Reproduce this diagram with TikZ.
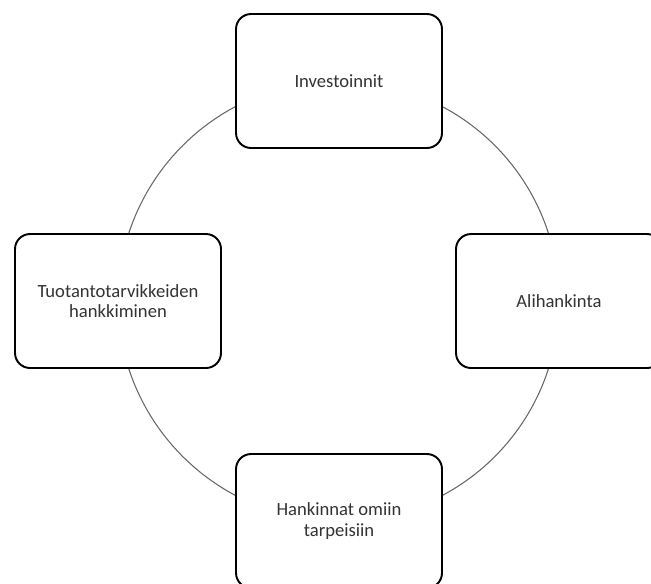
\documentclass[tikz,border=0pt]{standalone}
\usepackage{fontspec}
\setmainfont{Carlito}
\usetikzlibrary{backgrounds}
\tikzstyle{box} = [draw, rounded corners=0.3cm, fill=white, line width=1.1pt, minimum width=4.12cm, minimum height=2.68cm, align=center, text=black!80, font=\fontsize{10.6}{11.6}\selectfont]
\tikzstyle{ring} = [black!60, line width=0.6pt]

\begin{document}
\begin{tikzpicture}[x=0.02cm, y=-0.02cm]
	\useasboundingbox (0,0) rectangle (651,583);

	\node[box] (inv) at (339, 81) {Investoinnit} ;
	\node[box] (ali) at (559, 301) {Alihankinta} ;
	\node[box] (omat) at (339, 521) {Hankinnat omiin\\tarpeisiin} ;
	\node[box] (tuot) at (118, 301) {Tuotantotarvikkeiden\\hankkiminen} ;

	\begin{pgfonlayer}{background}
		\draw[ring] (inv.center) to[bend left=45] (ali.center) ;
		\draw[ring] (ali.center) to[bend left=45] (omat.center) ;
		\draw[ring] (omat.center) to[bend left=45] (tuot.center) ;
		\draw[ring] (tuot.center) to[bend left=45] (inv.center) ;
	\end{pgfonlayer}
\end{tikzpicture}
\end{document}
